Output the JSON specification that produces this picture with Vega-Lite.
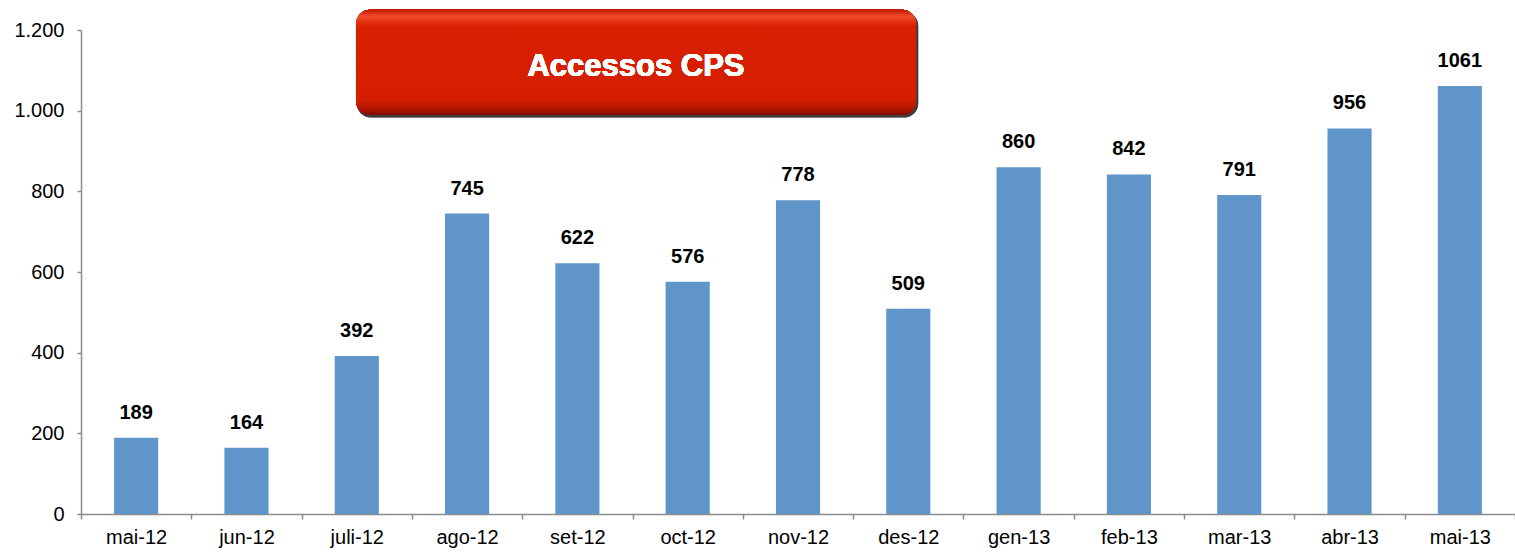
{
  "$schema": "https://vega.github.io/schema/vega-lite/v6.json",
  "autosize": "none",
  "width": 1434,
  "height": 484,
  "padding": {"left": 81, "top": 30, "right": 0, "bottom": 38},
  "background": "white",
  "config": {
    "view": {"stroke": null},
    "font": "Liberation Sans",
    "axis": {"labelFont": "Liberation Sans", "labelColor": "#000000", "domainColor": "#8c8c8c", "tickColor": "#8c8c8c", "domainWidth": 1.5, "tickWidth": 1.5, "grid": false, "title": null}
  },
  "data": {
    "values": [
      {"mes": "mai-12", "accessos": 189},
      {"mes": "jun-12", "accessos": 164},
      {"mes": "juli-12", "accessos": 392},
      {"mes": "ago-12", "accessos": 745},
      {"mes": "set-12", "accessos": 622},
      {"mes": "oct-12", "accessos": 576},
      {"mes": "nov-12", "accessos": 778},
      {"mes": "des-12", "accessos": 509},
      {"mes": "gen-13", "accessos": 860},
      {"mes": "feb-13", "accessos": 842},
      {"mes": "mar-13", "accessos": 791},
      {"mes": "abr-13", "accessos": 956},
      {"mes": "mai-13", "accessos": 1061}
    ]
  },
  "resolve": {"scale": {"x": "independent"}, "axis": {"x": "independent"}},
  "layer": [
    {
      "layer": [
        {
          "mark": {"type": "bar", "color": "#5f95c8", "width": {"band": 0.4}},
          "encoding": {
            "x": {
              "field": "mes", "type": "nominal", "sort": null,
              "scale": {"paddingInner": 0, "paddingOuter": 0},
              "axis": {"labelAngle": 0, "labelFontSize": 20, "tickSize": 5, "labelPadding": 8, "tickBand": "extent"}
            },
            "y": {
              "field": "accessos", "type": "quantitative",
              "scale": {"domain": [0, 1200], "nice": false},
              "axis": {"values": [0, 200, 400, 600, 800, 1000, 1200], "labelFontSize": 20, "tickSize": 4, "labelPadding": 13, "labelExpr": "replace(format(datum.value, ','), ',', '.')"}
            }
          }
        },
        {
          "mark": {"type": "text", "fontWeight": "bold", "fontSize": 20, "baseline": "alphabetic", "dy": -19, "color": "#000000"},
          "encoding": {
            "x": {"field": "mes", "type": "nominal", "sort": null},
            "y": {"field": "accessos", "type": "quantitative"},
            "text": {"field": "accessos", "type": "quantitative", "format": "d"}
          }
        }
      ]
    },
    {
      "layer": [
        {
          "mark": {"type": "rect", "cornerRadius": 14, "clip": false, "fill": "#000000", "opacity": 0.1},
          "encoding": {
            "x": {"datum": 2.5, "type": "quantitative", "scale": {"domain": [0, 13], "nice": false, "zero": false}, "axis": null},
            "x2": {"datum": 7.59},
            "y": {"datum": 983, "type": "quantitative"},
            "y2": {"datum": 1245}
          }
        },
        {
          "mark": {"type": "rect", "cornerRadius": 14, "clip": false,
            "fill": {"gradient": "linear", "x1": 0, "y1": 0, "x2": 0, "y2": 1, "stops": [
              {"offset": 0, "color": "#c01a00"},
              {"offset": 0.06, "color": "#f0492c"},
              {"offset": 0.16, "color": "#d91f00"},
              {"offset": 0.85, "color": "#d51e00"},
              {"offset": 0.95, "color": "#ab1400"},
              {"offset": 1, "color": "#7e0c00"}
            ]}},
          "encoding": {
            "x": {"datum": 2.493, "type": "quantitative", "scale": {"domain": [0, 13], "nice": false, "zero": false}, "axis": null},
            "x2": {"datum": 7.57},
            "y": {"datum": 989, "type": "quantitative"},
            "y2": {"datum": 1250}
          }
        },
        {
          "mark": {"type": "text", "clip": false, "fontWeight": "bold", "fontSize": 31, "color": "white", "baseline": "alphabetic", "align": "center", "text": "Accessos CPS"},
          "encoding": {
            "x": {"datum": 5.031, "type": "quantitative", "scale": {"domain": [0, 13], "nice": false, "zero": false}, "axis": null},
            "y": {"datum": 1086, "type": "quantitative"}
          }
        }
      ]
    }
  ]
}
